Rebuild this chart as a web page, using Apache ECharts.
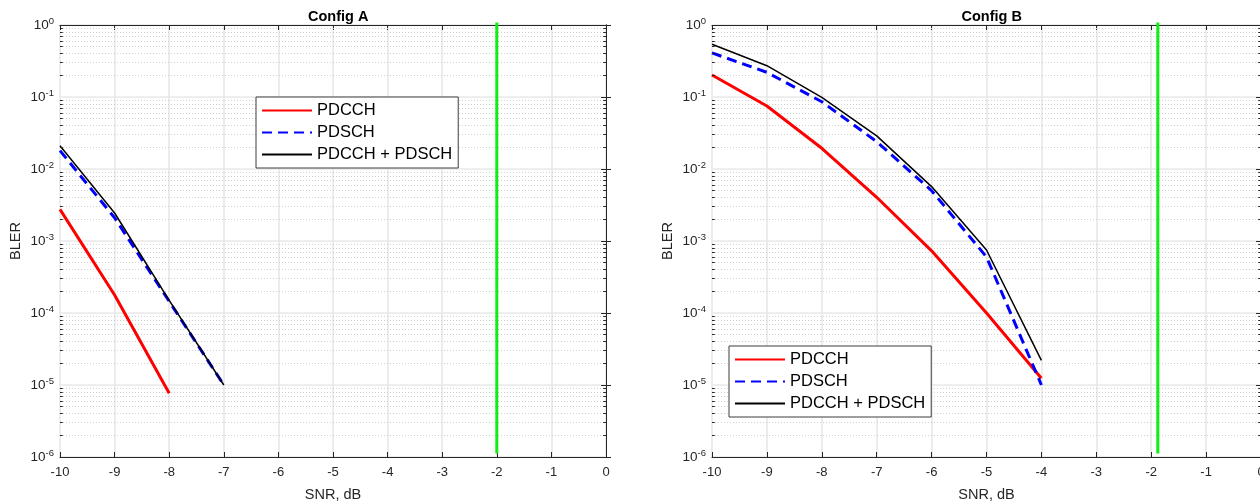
<!DOCTYPE html>
<html>
<head>
<meta charset="utf-8">
<script src="https://cdn.jsdelivr.net/npm/echarts@6/dist/echarts.min.js"></script>
<style>html,body{margin:0;padding:0;background:#fff;overflow:hidden}#c{width:1260px;height:504px}</style>
</head>
<body>
<div id="c"></div>
<script>
// ---- data ----
const snr = [-10, -9, -8, -7, -6, -5, -4];
const titles = ['Config A', 'Config B'];
const seriesNames = ['PDCCH', 'PDSCH', 'PDCCH + PDSCH'];
// Config A
const aPdcch = [2.75e-3, 1.78e-4, 7.7e-6];
const aPdsch = [1.8e-2, 2.1e-3, 1.45e-4, 1.0e-5];
const aBoth  = [2.1e-2, 2.45e-3, 1.5e-4, 1.0e-5];
const aMarkerX = -2;
// Config B
const bPdcch = [0.202, 0.075, 0.0194, 4.05e-3, 7.3e-4, 1.0e-4, 1.24e-5];
const bPdsch = [0.41, 0.22, 0.086, 0.024, 5.0e-3, 6.0e-4, 1.0e-5];
const bBoth  = [0.54, 0.272, 0.099, 0.0288, 5.7e-3, 7.5e-4, 2.2e-5];
const bMarkerX = -1.88;
const markerYRange = [1.08, 1.12e-6];
const xTicks = [-10, -9, -8, -7, -6, -5, -4, -3, -2, -1, 0];
const yDecades = [1e-6, 1e-5, 1e-4, 1e-3, 1e-2, 1e-1, 1];
const minorMultipliers = [2, 3, 4, 5, 6, 7, 8, 9];

// ---- build ----
const TXT = '#262626';
const FONT = '"Liberation Sans", Arial, Helvetica, sans-serif';
const xMin = xTicks[0], xMax = xTicks[xTicks.length - 1];
const minorVals = [];
yDecades.slice(0, -1).forEach(d => minorMultipliers.forEach(m => minorVals.push(m * d)));
const minorTickLen = 0.05; // in x units (~2.7px)
const majorTickLen = 0.09; // in x units (~5px)

function pairs(ys) { return ys.map((y, i) => [snr[i], y]); }

const grids = [
  {left: 60, top: 25, width: 546, height: 432, outerBoundsMode: 'none', containLabel: false},
  {left: 712, top: 25, width: 549, height: 432, outerBoundsMode: 'none', containLabel: false}
];

const xAxis = [], yAxis = [], series = [], title = [], legend = [];
function yLabel(v) {
  const e = Math.round(Math.log10(v));
  return '10{s|' + e + '}';
}
const majorGrid = {show: true, lineStyle: {color: '#e8e8e8', width: 1.6}};
grids.forEach((g, gi) => {
  xAxis.push({
    gridIndex: gi, type: 'value', min: xMin, max: xMax, interval: 1,
    position: 'bottom',
    name: 'SNR, dB', nameLocation: 'middle', nameGap: 30,
    nameTextStyle: {color: TXT, fontSize: 14.5, fontFamily: FONT},
    axisLine: {lineStyle: {color: TXT, width: 1}},
    axisTick: {inside: true, length: 5, lineStyle: {color: TXT}},
    axisLabel: {color: TXT, fontSize: 13, fontFamily: FONT, margin: 9},
    splitLine: majorGrid
  });
  xAxis.push({
    gridIndex: gi, type: 'value', min: xMin, max: xMax, interval: 1,
    position: 'top',
    axisLine: {lineStyle: {color: TXT, width: 1}},
    axisTick: {inside: true, length: 5, lineStyle: {color: TXT}},
    axisLabel: {show: false}, splitLine: {show: false}
  });
  yAxis.push({
    gridIndex: gi, type: 'log', logBase: 10, min: yDecades[0], max: yDecades[yDecades.length - 1],
    position: 'left',
    name: 'BLER', nameLocation: 'middle', nameGap: 37, nameRotate: 90,
    nameTextStyle: {color: TXT, fontSize: 14.5, fontFamily: FONT},
    axisLine: {show: true, lineStyle: {color: TXT, width: 1}},
    axisTick: {show: true, inside: true, length: 5, lineStyle: {color: TXT}},
    axisLabel: {color: TXT, fontSize: 13.5, fontFamily: FONT, margin: 6, formatter: yLabel,
      rich: {s: {fontSize: 9.5, verticalAlign: 'top', padding: [0, 0, 8, 0], color: TXT, fontFamily: FONT}}},
    splitLine: majorGrid
  });
  yAxis.push({
    gridIndex: gi, type: 'log', logBase: 10, min: yDecades[0], max: yDecades[yDecades.length - 1],
    position: 'right',
    axisLine: {show: true, lineStyle: {color: TXT, width: 1}},
    axisTick: {show: false},
    axisLabel: {show: false}, splitLine: {show: false}
  });
  title.push({
    text: titles[gi], left: g.left + g.width / 2 - 30, top: 4,
    textStyle: {color: '#000', fontSize: 14.5, fontWeight: 'bold', fontFamily: FONT}
  });
});

const xi = [0, 2], yi = [0, 2];
const dataSets = [[aPdcch, aPdsch, aBoth, aMarkerX], [bPdcch, bPdsch, bBoth, bMarkerX]];
dataSets.forEach((ds, gi) => {
  // minor grid (dotted)
  series.push({
    type: 'lines', coordinateSystem: 'cartesian2d', xAxisIndex: xi[gi], yAxisIndex: yi[gi],
    silent: true, z: 1, polyline: false, animation: false,
    lineStyle: {type: [1, 2], color: '#d0d0d0', width: 1, opacity: 1},
    data: minorVals.map(v => ({coords: [[xMin, v], [xMax, v]]}))
  });
  // minor ticks on left/right y axes, major ticks on right y axis (pointing inward)
  series.push({
    type: 'lines', coordinateSystem: 'cartesian2d', xAxisIndex: xi[gi], yAxisIndex: yi[gi],
    silent: true, z: 6, polyline: false, animation: false,
    lineStyle: {type: 'solid', color: TXT, width: 1, opacity: 1},
    data: minorVals.map(v => ({coords: [[xMin, v], [xMin + minorTickLen, v]]}))
      .concat(minorVals.map(v => ({coords: [[xMax - minorTickLen, v], [xMax, v]]})))
      .concat(yDecades.map(v => ({coords: [[xMax - majorTickLen, v], [xMax, v]]})))
  });
  series.push({
    name: seriesNames[0], type: 'line', xAxisIndex: xi[gi], yAxisIndex: yi[gi],
    data: pairs(ds[0]), symbol: 'none', z: 3,
    lineStyle: {color: '#ff0000', width: 3}, itemStyle: {color: '#ff0000'}
  });
  series.push({
    name: seriesNames[1], type: 'line', xAxisIndex: xi[gi], yAxisIndex: yi[gi],
    data: pairs(ds[1]), symbol: 'none', z: 4,
    lineStyle: {color: '#0000ff', width: 3, type: [10, 6]}, itemStyle: {color: '#0000ff'}
  });
  series.push({
    name: seriesNames[2], type: 'line', xAxisIndex: xi[gi], yAxisIndex: yi[gi],
    data: pairs(ds[2]), symbol: 'none', z: 5,
    lineStyle: {color: '#000000', width: 1.5}, itemStyle: {color: '#000000'}
  });
  series.push({
    name: 'marker', type: 'line', xAxisIndex: xi[gi], yAxisIndex: yi[gi],
    data: markerYRange.map(y => [ds[3], y]), symbol: 'none', z: 6, clip: false,
    lineStyle: {color: '#11ee11', width: 3}
  });
});

const legendBase = {
  orient: 'vertical', data: seriesNames, itemWidth: 50, itemHeight: 14, itemGap: 5,
  padding: [5, 6, 5, 5], borderColor: '#3c3c3c', borderWidth: 1, backgroundColor: '#fff',
  itemStyle: {color: 'transparent', borderWidth: 0, opacity: 0},
  textStyle: {color: '#000', fontSize: 16.5, fontFamily: FONT}, selectedMode: false
};
legend.push(Object.assign({}, legendBase, {left: 256, top: 97}));
legend.push(Object.assign({}, legendBase, {left: 729, top: 346}));

const chart = echarts.init(document.getElementById('c'), null, {renderer: 'canvas'});
chart.setOption({
  animation: false, backgroundColor: '#fff',
  title, legend, grid: grids, xAxis, yAxis, series
});
</script>
</body>
</html>
